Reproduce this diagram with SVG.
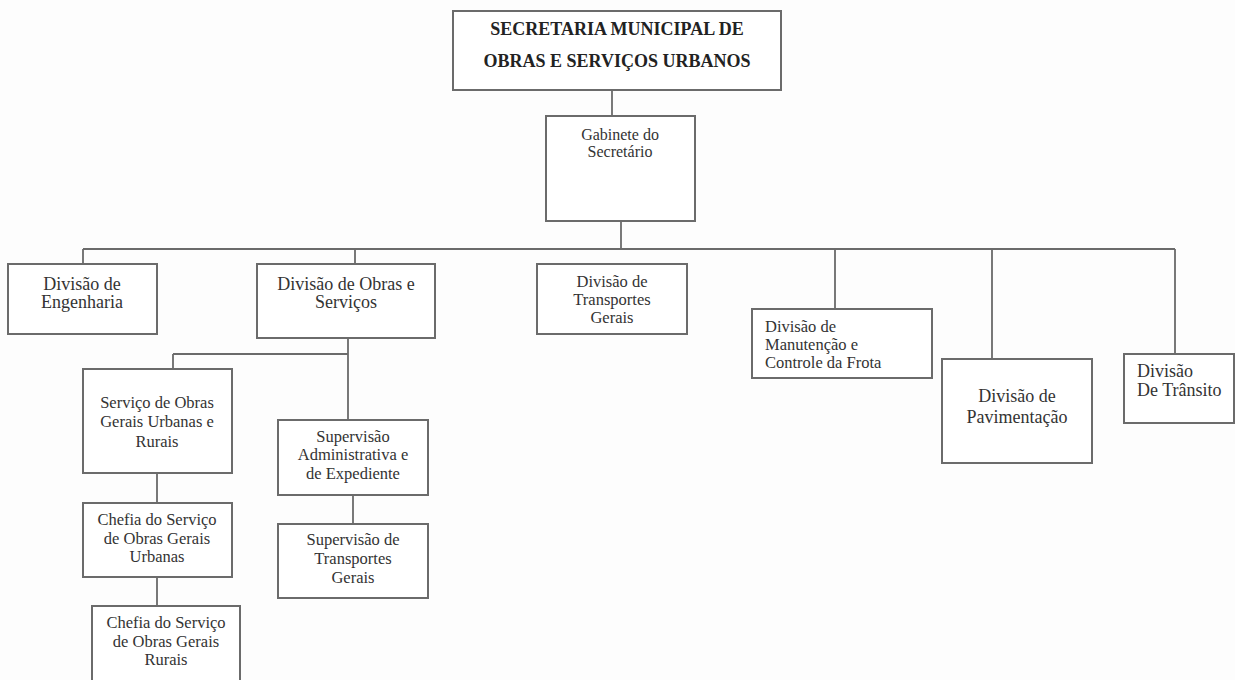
<svg xmlns="http://www.w3.org/2000/svg" width="1235" height="680" viewBox="0 0 1235 680">
<style>
.box{fill:#fff;stroke:#6b6b6b;stroke-width:2}
.ln{fill:none;stroke:#6b6b6b;stroke-width:1.8}
text{font-family:"Liberation Serif","Times New Roman",serif;fill:#333;font-size:16.5px}
.c{text-anchor:middle}
.b{font-weight:bold;font-size:18px;fill:#222}
.l{font-size:18px}
</style>
<rect width="1235" height="680" fill="#fdfdfd"/>
<g id="connectors">
<path class="ln" d="M612 90V116"/>
<path class="ln" d="M621 221V249"/>
<path class="ln" d="M83 249H1175"/>
<path class="ln" d="M83 249V264M355 249V264M835 249V309M992 249V359M1175 249V354"/>
<path class="ln" d="M348 338V420M173 354H348M173 354V369"/>
<path class="ln" d="M157 473V503M157 577V606"/>
<path class="ln" d="M353 495V524"/>
</g>
<g id="secretaria">
<rect class="box" x="453" y="11" width="328" height="79"/>
<text class="c b" x="617" y="35">SECRETARIA MUNICIPAL DE</text>
<text class="c b" x="617" y="67">OBRAS E SERVIÇOS URBANOS</text>
</g>
<g id="gabinete">
<rect class="box" x="546" y="116" width="149" height="105"/>
<text class="c" x="620" y="140" style="font-size:16px">Gabinete do</text>
<text class="c" x="620" y="157" style="font-size:16px">Secretário</text>
</g>
<g id="engenharia">
<rect class="box" x="8" y="264" width="149" height="70"/>
<text class="c l" x="82" y="290">Divisão de</text>
<text class="c l" x="82" y="308">Engenharia</text>
</g>
<g id="obras">
<rect class="box" x="257" y="264" width="178" height="74"/>
<text class="c l" x="346" y="290">Divisão de Obras e</text>
<text class="c l" x="346" y="308">Serviços</text>
</g>
<g id="transportes">
<rect class="box" x="537" y="264" width="150" height="70"/>
<text class="c" x="612" y="287">Divisão de</text>
<text class="c" x="612" y="305">Transportes</text>
<text class="c" x="612" y="323">Gerais</text>
</g>
<g id="manutencao">
<rect class="box" x="752" y="309" width="180" height="69"/>
<text x="765" y="332">Divisão de</text>
<text x="765" y="350">Manutenção e</text>
<text x="765" y="368">Controle da Frota</text>
</g>
<g id="pavimentacao">
<rect class="box" x="942" y="359" width="150" height="104"/>
<text class="c l" x="1017" y="402">Divisão de</text>
<text class="c l" x="1017" y="423">Pavimentação</text>
</g>
<g id="transito">
<rect class="box" x="1124" y="354" width="110" height="69"/>
<text class="l" x="1137" y="377">Divisão</text>
<text class="l" x="1137" y="396">De Trânsito</text>
</g>
<g id="servico-obras-gerais">
<rect class="box" x="83" y="369" width="149" height="104"/>
<text class="c" x="157" y="408">Serviço de Obras</text>
<text class="c" x="157" y="427">Gerais Urbanas e</text>
<text class="c" x="157" y="447">Rurais</text>
</g>
<g id="chefia-urbanas">
<rect class="box" x="83" y="503" width="149" height="74"/>
<text class="c" x="157" y="525">Chefia do Serviço</text>
<text class="c" x="157" y="544">de Obras Gerais</text>
<text class="c" x="157" y="562">Urbanas</text>
</g>
<g id="chefia-rurais">
<rect class="box" x="92" y="606" width="148" height="80"/>
<text class="c" x="166" y="628">Chefia do Serviço</text>
<text class="c" x="166" y="647">de Obras Gerais</text>
<text class="c" x="166" y="665">Rurais</text>
</g>
<g id="supervisao-administrativa">
<rect class="box" x="278" y="420" width="150" height="75"/>
<text class="c" x="353" y="442">Supervisão</text>
<text class="c" x="353" y="460">Administrativa e</text>
<text class="c" x="353" y="479">de Expediente</text>
</g>
<g id="supervisao-transportes">
<rect class="box" x="278" y="524" width="150" height="74"/>
<text class="c" x="353" y="545">Supervisão de</text>
<text class="c" x="353" y="564">Transportes</text>
<text class="c" x="353" y="583">Gerais</text>
</g>
</svg>
